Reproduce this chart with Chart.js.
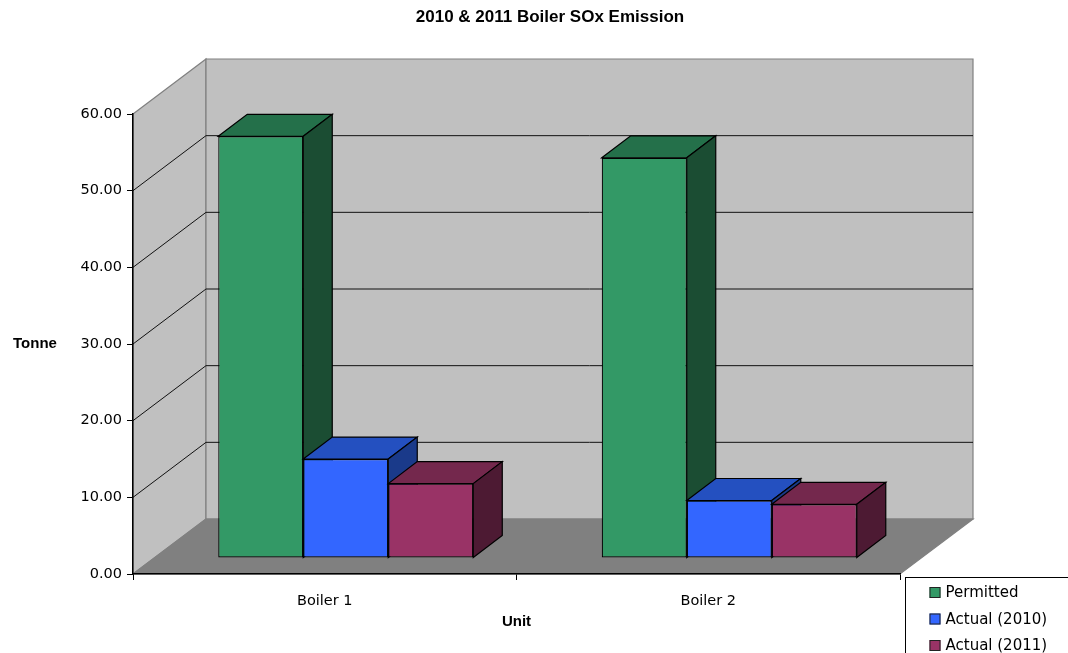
<!DOCTYPE html>
<html lang="en">
<head>
  <meta charset="UTF-8" />
  <title>2010 &amp; 2011 Boiler SOx Emission</title>
  <script src="https://cdn.jsdelivr.net/npm/chart.js"></script>
  <style>
    body { margin: 0; background: #fff; }
    canvas { display: block; }
  </style>
</head>
<body>
  <canvas id="chart" width="1068" height="653"></canvas>

  <script>
    // SOx emission per boiler, tonnes
    const units = ["Boiler 1", "Boiler 2"];
    const permitted = [55.0, 52.2];
    const actual2010 = [12.9, 7.5];
    const actual2011 = [9.7, 7.0];
    const seriesNames = ["Permitted", "Actual (2010)", "Actual (2011)"];

    // front / top / side shade of each series
    const shades = [
      { front: "#339966", top: "#24704a", side: "#1b4d33" },
      { front: "#3366ff", top: "#2450c0", side: "#1a3a8a" },
      { front: "#993366", top: "#74284d", side: "#4d1a33" }
    ];

    // oblique depth of the walls and of the bars
    const wallDepth = { x: 73, y: -55 };
    const barShift = { x: 21, y: -16 };
    const barDepth = { x: 29, y: -22 };

    const tickFont = { family: "DejaVu Sans", size: 14.5 };

    function poly(ctx, pts, fill, stroke) {
      ctx.beginPath();
      ctx.moveTo(pts[0][0], pts[0][1]);
      for (let i = 1; i < pts.length; i++) ctx.lineTo(pts[i][0], pts[i][1]);
      ctx.closePath();
      if (fill) { ctx.fillStyle = fill; ctx.fill(); }
      if (stroke) { ctx.strokeStyle = stroke; ctx.lineWidth = 1.2; ctx.stroke(); }
    }

    const box3d = {
      id: "box3d",
      // white page, walls, floor and gridlines behind everything else
      beforeDraw(chart) {
        const { ctx, chartArea: a, scales: { y } } = chart;
        const dx = wallDepth.x, dy = wallDepth.y;
        ctx.save();
        ctx.fillStyle = "#fff";
        ctx.fillRect(0, 0, chart.width, chart.height);

        poly(ctx, [[a.left, a.top], [a.left + dx, a.top + dy], [a.left + dx, a.bottom + dy], [a.left, a.bottom]], "#c0c0c0", "#808080");
        poly(ctx, [[a.left + dx, a.top + dy], [a.right + dx, a.top + dy], [a.right + dx, a.bottom + dy], [a.left + dx, a.bottom + dy]], "#c0c0c0", "#808080");
        poly(ctx, [[a.left, a.bottom], [a.left + dx, a.bottom + dy], [a.right + dx, a.bottom + dy], [a.right, a.bottom]], "#808080", "#808080");

        ctx.strokeStyle = "#111";
        ctx.lineWidth = 1;
        y.ticks.forEach(t => {
          if (t.value <= y.min || t.value >= y.max) return;
          const py = y.getPixelForValue(t.value);
          ctx.beginPath();
          ctx.moveTo(a.left, py);
          ctx.lineTo(a.left + dx, py + dy);
          ctx.lineTo(a.right + dx, py + dy);
          ctx.stroke();
        });
        ctx.restore();
      },
      // bars left to right so each one hides its left neighbour's side
      beforeDatasetsDraw(chart) {
        const ctx = chart.ctx;
        ctx.save();
        ctx.translate(barShift.x, barShift.y);
        chart.data.datasets.forEach((ds, i) => {
          const meta = chart.getDatasetMeta(i);
          meta.controller.draw();
          const s = shades[i];
          meta.data.forEach(bar => {
            const { x, y, base, width } = bar.getProps(["x", "y", "base", "width"], true);
            const l = x - width / 2, r = x + width / 2;
            const bx = barDepth.x, by = barDepth.y;
            poly(ctx, [[l, y], [l + bx, y + by], [r + bx, y + by], [r, y]], s.top, "#000");
            poly(ctx, [[r, y], [r + bx, y + by], [r + bx, base + by], [r, base]], s.side, "#000");
          });
        });
        ctx.restore();
        return false;
      },
      afterDraw(chart) {
        const { ctx, chartArea: a } = chart;
        ctx.save();
        ctx.fillStyle = "#000";
        ctx.textAlign = "center";
        ctx.textBaseline = "middle";

        ctx.font = "bold 17px 'Liberation Sans'";
        ctx.fillText("2010 & 2011 Boiler SOx Emission", 550, 17);

        ctx.font = "bold 15px 'Liberation Sans'";
        ctx.fillText("Tonne", 35, (a.top + a.bottom) / 2);
        ctx.fillText("Unit", (a.left + a.right) / 2, 622);

        // legend box in the lower right corner
        const lx = a.right + 5.5, ly = a.bottom + 3.5;
        ctx.strokeStyle = "#000";
        ctx.lineWidth = 1;
        ctx.strokeRect(lx, ly, 200, 120);
        ctx.textAlign = "left";
        ctx.font = "15px 'DejaVu Sans'";
        chart.data.datasets.forEach((ds, i) => {
          const cy = ly + 15 + i * 26.5;
          ctx.fillStyle = ds.backgroundColor;
          ctx.fillRect(lx + 24, cy - 5.5, 11, 11);
          ctx.strokeStyle = "#222";
          ctx.strokeRect(lx + 24.5, cy - 5, 10, 10);
          ctx.fillStyle = "#000";
          ctx.fillText(ds.label, lx + 40, cy + 1);
        });
        ctx.restore();
      }
    };

    const seriesValues = [permitted, actual2010, actual2011];

    new Chart(document.getElementById("chart"), {
      type: "bar",
      data: {
        labels: units,
        datasets: seriesValues.map((vals, i) => ({
          label: seriesNames[i],
          data: vals,
          backgroundColor: shades[i].front,
          borderColor: "#000",
          borderWidth: 1.2,
          borderSkipped: false,
          categoryPercentage: 0.665,
          barPercentage: 1,
          clip: false
        }))
      },
      options: {
        responsive: false,
        animation: false,
        events: [],
        layout: { padding: { top: 114, right: 168, bottom: 0, left: 0 } },
        plugins: {
          legend: { display: false },
          title: { display: false },
          tooltip: { enabled: false }
        },
        scales: {
          x: {
            afterFit(scale) { scale.height = 79; },
            grid: { offset: true, drawOnChartArea: false, color: "#000", tickLength: 6 },
            border: { color: "#000", width: 1.5 },
            ticks: { color: "#000", font: tickFont, padding: 13 }
          },
          y: {
            min: 0,
            max: 60,
            afterFit(scale) { scale.width = 133; },
            grid: { drawOnChartArea: false, color: "#000", tickLength: 6 },
            border: { color: "#000", width: 1.5 },
            ticks: {
              stepSize: 10,
              color: "#000",
              font: tickFont,
              padding: 5,
              callback: v => v.toFixed(2)
            }
          }
        }
      },
      plugins: [box3d]
    });
  </script>
</body>
</html>
